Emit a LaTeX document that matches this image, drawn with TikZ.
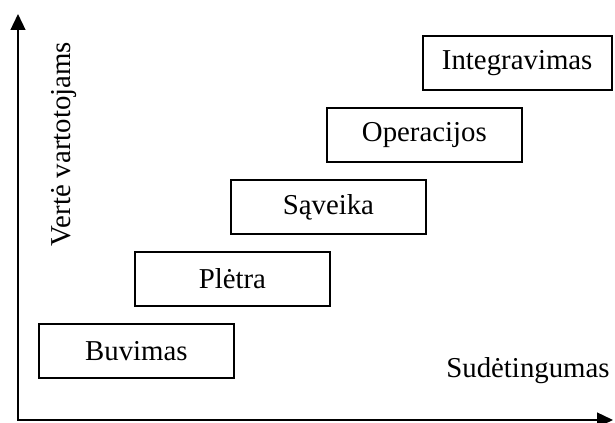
\documentclass[tikz,border=0pt]{standalone}
\usepackage{fontspec}
\setmainfont{Liberation Serif}
\usetikzlibrary{calc, positioning, arrows.meta}

\begin{document}
\begin{tikzpicture}[
        stage/.style={draw, line width=1.3pt, minimum width=4.875cm, minimum height=1.35cm, inner sep=0pt},
        axis/.style={line width=1.4pt, {Triangle[length=0.4cm, width=0.37cm]}-{Triangle[length=0.4cm, width=0.37cm]}},
        font=\fontsize{20.5}{24}\selectfont
    ]
            \useasboundingbox (0, 0) rectangle (15.375, 10.575);
            \coordinate (o) at (0.45, 0.075);
            \coordinate (ytip) at (0.45, 10.225);
            \coordinate (xtip) at (15.325, 0.075);
            \draw[axis] (ytip) -- (o) -- (xtip);
            \node[rotate=90] (value) at (1.6, 6.975) {Vertė vartotojams};
            \node (complex) at (13.2, 1.3) {Sudėtingumas};
            \node[stage] (buv) at (3.41, 1.8) {Buvimas};
            \node[stage] (ple) at ($(buv) + (2.4, 1.8)$) {Plėtra};
            \node[stage] (sav) at ($(ple) + (2.4, 1.8)$) {Sąveika};
            \node[stage] (ope) at ($(sav) + (2.4, 1.8)$) {Operacijos};
            \node[stage, minimum width=4.725cm] (int) at ($(ope) + (2.32, 1.8)$) {Integravimas};
        \end{tikzpicture}
\end{document}
